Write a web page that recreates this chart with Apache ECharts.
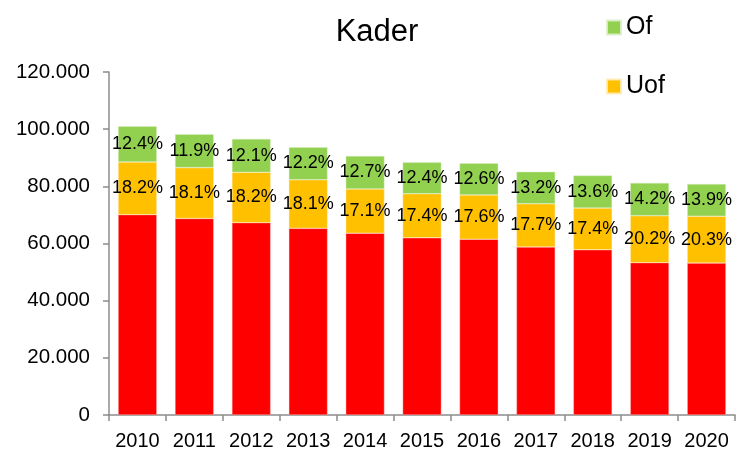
<!DOCTYPE html>
<html>
<head>
<meta charset="utf-8">
<script src="https://cdn.jsdelivr.net/npm/echarts@6/dist/echarts.min.js"></script>
<style>
html,body{margin:0;padding:0;background:#fff;}
#c{width:747px;height:451px;}
</style>
</head>
<body>
<div id="c"></div>
<script>
var years = ['2010','2011','2012','2013','2014','2015','2016','2017','2018','2019','2020'];
var restValues = [70100, 68750, 67300, 65300, 63600, 62000, 61500, 58800, 57800, 53300, 53150];
var uofValues = [18400, 17800, 17600, 17000, 15500, 15400, 15500, 15100, 14600, 16400, 16400];
var ofValues = [12500, 11700, 11700, 11400, 11500, 11000, 11100, 11200, 11400, 11500, 11250];
var uofLabels = ['18.2%','18.1%','18.2%','18.1%','17.1%','17.4%','17.6%','17.7%','17.4%','20.2%','20.3%'];
var ofLabels = ['12.4%','11.9%','12.1%','12.2%','12.7%','12.4%','12.6%','13.2%','13.6%','14.2%','13.9%'];
var yTicks = [0, 20000, 40000, 60000, 80000, 100000, 120000];

var FONT = '"Liberation Sans", Arial, sans-serif';
var chart = echarts.init(document.getElementById('c'), null, {renderer: 'canvas'});

function fmtThousands(v) {
  return String(v).replace(/\B(?=(\d{3})+(?!\d))/g, '.');
}

var option = {
  animation: false,
  backgroundColor: '#ffffff',
  textStyle: {fontFamily: FONT},
  title: {
    text: 'Kader',
    left: 372,
    textAlign: 'center',
    top: 12,
    textStyle: {fontFamily: FONT, fontSize: 31, fontWeight: 'normal', color: '#000'}
  },
  legend: {
    data: ['Of', 'Uof'],
    orient: 'vertical',
    left: 601,
    top: 10,
    icon: 'rect',
    itemWidth: 14,
    itemHeight: 14,
    itemGap: 34,
    textStyle: {fontFamily: FONT, fontSize: 25, color: '#000'}
  },
  grid: {left: 109, right: 12, top: 72, bottom: 35, containLabel: false},
  xAxis: {
    type: 'category',
    data: years,
    axisLine: {lineStyle: {color: '#8c8c8c', width: 1.5}},
    axisTick: {show: true, length: 6, interval: 0, lineStyle: {color: '#8c8c8c', width: 1.5}},
    axisLabel: {fontFamily: FONT, fontSize: 20, color: '#000', margin: 16, interval: 0, hideOverlap: false}
  },
  yAxis: {
    type: 'value',
    min: yTicks[0],
    max: yTicks[yTicks.length - 1],
    interval: yTicks[1] - yTicks[0],
    axisLine: {show: true, lineStyle: {color: '#8c8c8c', width: 1.5}},
    axisTick: {show: true, length: 6, lineStyle: {color: '#8c8c8c', width: 1.5}},
    splitLine: {show: false},
    axisLabel: {fontFamily: FONT, fontSize: 20.5, color: '#000', margin: 19, formatter: fmtThousands}
  },
  series: [
    {
      name: 'Rest',
      type: 'bar',
      stack: 'k',
      data: restValues,
      barCategoryGap: '32%',
      itemStyle: {color: '#ff0000', borderColor: 'rgba(255,200,200,0.8)', borderWidth: 0.5}
    },
    {
      name: 'Uof',
      type: 'bar',
      stack: 'k',
      data: uofValues,
      itemStyle: {color: '#ffc000', borderColor: 'rgba(255,235,180,0.9)', borderWidth: 0.5},
      label: {
        show: true, position: 'inside', fontFamily: FONT, fontSize: 18, color: '#000',
        formatter: function (p) { return uofLabels[p.dataIndex]; }
      }
    },
    {
      name: 'Of',
      type: 'bar',
      stack: 'k',
      data: ofValues,
      itemStyle: {color: '#92d050', borderColor: 'rgba(220,240,200,0.9)', borderWidth: 0.5},
      label: {
        show: true, position: 'inside', fontFamily: FONT, fontSize: 18, color: '#000',
        formatter: function (p) { return ofLabels[p.dataIndex]; }
      }
    }
  ]
};
chart.setOption(option);
</script>
</body>
</html>
